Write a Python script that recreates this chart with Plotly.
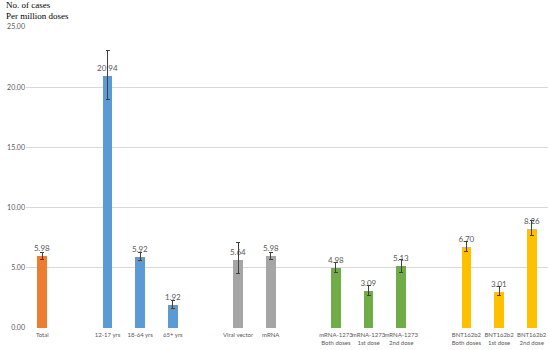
import plotly.graph_objects as go

# Data
groups = [
    {"labels": ["Total"], "values": [5.98], "upper": [6.30], "lower": [5.68], "color": "#ED7D31"},
    {"labels": ["12-17 yrs", "18-64 yrs", "65+ yrs"], "values": [20.94, 5.92, 1.92],
     "upper": [23.05, 6.30, 2.30], "lower": [19.00, 5.58, 1.60], "color": "#5B9BD5"},
    {"labels": ["Viral vector", "mRNA"], "values": [5.64, 5.98],
     "upper": [7.08, 6.30], "lower": [4.54, 5.68], "color": "#A5A5A5"},
    {"labels": ["mRNA-1273<br>Both doses", "mRNA-1273<br>1st dose", "mRNA-1273<br>2nd dose"],
     "values": [4.98, 3.09, 5.13], "upper": [5.40, 3.51, 5.73], "lower": [4.60, 2.74, 4.62],
     "color": "#70AD47"},
    {"labels": ["BNT162b2<br>Both doses", "BNT162b2<br>1st dose", "BNT162b2<br>2nd dose"],
     "values": [6.70, 3.01, 8.26], "upper": [7.15, 3.43, 8.89], "lower": [6.34, 2.74, 7.72],
     "color": "#FFC000"},
]
y_ticks = [0, 5, 10, 15, 20, 25]
y_title = ["No. of cases", "Per million doses"]

fig = go.Figure()
tickvals, ticktext = [], []
slot = 0
for gi, g in enumerate(groups):
    xs = []
    for lab in g["labels"]:
        xs.append(slot)
        tickvals.append(slot)
        ticktext.append(lab)
        slot += 1
    slot += 1  # blank slot between groups
    fig.add_trace(go.Bar(
        x=xs, y=g["values"], width=0.3,
        marker=dict(color=g["color"], line=dict(width=0)),
        text=[f"{v:.2f}" for v in g["values"]],
        textposition="outside", cliponaxis=False, constraintext="none",
        textfont=dict(family="Lato", size=8, color="#595959"),
        error_y=dict(type="data", symmetric=False,
                     array=[u - v for u, v in zip(g["upper"], g["values"])],
                     arrayminus=[v - l for v, l in zip(g["values"], g["lower"])],
                     color="#404040", thickness=1, width=2),
        showlegend=False,
    ))

fig.update_layout(
    width=550, height=350,
    margin=dict(l=26, r=2, t=27, b=22),
    paper_bgcolor="white", plot_bgcolor="white",
    bargap=0,
    font=dict(family="Lato", size=7, color="#595959"),
    xaxis=dict(range=[-0.5, slot - 1.5], tickvals=tickvals, ticktext=ticktext,
               tickangle=0, showgrid=False, zeroline=False, showline=False, ticks="",
               automargin=False, ticklabelstandoff=2,
               tickfont=dict(family="Lato", size=6, color="#595959")),
    yaxis=dict(range=[0, 25], tickvals=y_ticks, tickformat=".2f",
               showgrid=True, gridcolor="#D9D9D9", gridwidth=1,
               zeroline=False, showline=False, ticks="", automargin=False,
               tickfont=dict(family="Lato", size=7, color="#595959")),
    annotations=[
        dict(text=y_title[0], x=-0.042, y=1.0, xref="paper", yref="paper",
             yshift=22, xanchor="left", yanchor="middle", showarrow=False,
             font=dict(family="Liberation Serif", size=9, color="#000000")),
        dict(text=y_title[1], x=-0.042, y=1.0, xref="paper", yref="paper",
             yshift=11, xanchor="left", yanchor="middle", showarrow=False,
             font=dict(family="Liberation Serif", size=9, color="#000000")),
    ],
)

fig.write_html("out.html", config={"displayModeBar": False},
               post_script="document.body.style.margin='0';document.body.style.overflow='hidden';")
